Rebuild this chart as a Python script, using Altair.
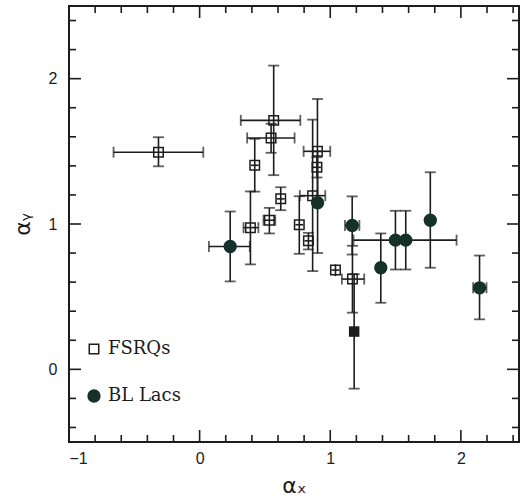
import altair as alt
import pandas as pd

# ---- data ----
# FSRQs (open squares)
fsrq_x   = [-0.315, 0.567, 0.547, 0.422, 0.389, 0.534, 0.621, 0.763, 0.833, 0.865, 0.898, 0.902, 1.040, 1.170]
fsrq_xlo = [-0.659, 0.315, 0.364, 0.392, 0.336, 0.489, 0.591, 0.733, 0.803, 0.767, 0.868, 0.796, 1.010, 1.089]
fsrq_xhi = [0.028, 0.771, 0.727, 0.452, 0.450, 0.579, 0.651, 0.793, 0.863, 0.962, 0.928, 1.000, 1.070, 1.260]
fsrq_y   = [1.494, 1.713, 1.592, 1.404, 0.975, 1.026, 1.173, 0.995, 0.884, 1.195, 1.390, 1.500, 0.683, 0.621]
fsrq_ylo = [1.397, 1.336, 1.490, 1.223, 0.722, 0.935, 1.095, 0.795, 0.825, 0.676, 1.320, 1.140, 0.641, 0.390]
fsrq_yhi = [1.597, 2.090, 1.690, 1.586, 1.224, 1.111, 1.253, 1.191, 0.939, 1.718, 1.460, 1.860, 0.722, 0.850]

# BL Lacs (filled circles)
bll_x   = [0.234, 1.168, 0.903, 1.387, 1.499, 1.578, 1.766, 2.143]
bll_xlo = [0.071, 1.113, 0.903, 1.387, 1.499, 1.178, 1.766, 2.094]
bll_xhi = [0.384, 1.223, 0.903, 1.387, 1.499, 1.967, 1.766, 2.196]
bll_y   = [0.845, 0.990, 1.146, 0.699, 0.889, 0.889, 1.026, 0.561]
bll_ylo = [0.605, 0.790, 0.800, 0.458, 0.687, 0.687, 0.699, 0.344]
bll_yhi = [1.086, 1.190, 1.500, 0.935, 1.091, 1.091, 1.356, 0.783]

# unlabelled filled square
oth_x   = [1.183]
oth_y   = [0.260]
oth_ylo = [-0.133]
oth_yhi = [0.655]

# axes
x_domain = [-1, 2.445]
y_domain = [-0.5, 2.5]
x_major = [-1, 0, 1, 2]
y_major = [0, 1, 2]
x_minor = [-0.8, -0.6, -0.4, -0.2, 0.2, 0.4, 0.6, 0.8, 1.2, 1.4, 1.6, 1.8, 2.2, 2.4]
y_minor = [-0.4, -0.2, 0.2, 0.4, 0.6, 0.8, 1.2, 1.4, 1.6, 1.8, 2.2, 2.4]

# ---- tables ----
rows = []
for t, X, XL, XH, Y, YL, YH in [
    ("FSRQs", fsrq_x, fsrq_xlo, fsrq_xhi, fsrq_y, fsrq_ylo, fsrq_yhi),
    ("BL Lacs", bll_x, bll_xlo, bll_xhi, bll_y, bll_ylo, bll_yhi),
]:
    for i in range(len(X)):
        rows.append(dict(type=t, x=X[i], xlo=XL[i], xhi=XH[i], y=Y[i], ylo=YL[i], yhi=YH[i]))
for i in range(len(oth_x)):
    rows.append(dict(type="other", x=oth_x[i], xlo=oth_x[i], xhi=oth_x[i],
                     y=oth_y[i], ylo=oth_ylo[i], yhi=oth_yhi[i]))
df = pd.DataFrame(rows)
pts = df[df.type != "other"]
oth = df[df.type == "other"]

capx = []
capy = []
for r in df.itertuples():
    if r.xhi - r.x > 0.04:
        capx += [dict(cx=r.xlo, y=r.y), dict(cx=r.xhi, y=r.y)]
    if r.yhi - r.y > 0.04:
        capy += [dict(x=r.x, cy=r.ylo), dict(x=r.x, cy=r.yhi)]
capx = pd.DataFrame(capx)
capy = pd.DataFrame(capy)

W, H = 450, 436
MAJ, MIN = 12, 7
xs = alt.Scale(domain=x_domain, nice=False, zero=False)
ys = alt.Scale(domain=y_domain, nice=False, zero=False)
INK = "#1c1c1c"
DARK = "#16302a"

xt = pd.DataFrame({"v": x_major + x_minor, "len": [MAJ] * len(x_major) + [MIN] * len(x_minor)})
yt = pd.DataFrame({"v": y_major + y_minor, "len": [MAJ] * len(y_major) + [MIN] * len(y_minor)})


def xticks(edge):
    # inward ticks on the bottom (edge=H) or top (edge=0) frame line
    sign = -1 if edge == H else 1
    return alt.Chart(xt).transform_calculate(p0=str(edge), p1=f"{edge} + {sign} * datum.len").mark_rule(
        color=INK, strokeWidth=1.6).encode(
        x=alt.X("v:Q", scale=xs, axis=None),
        y=alt.Y("p0:Q", scale=None), y2="p1:Q")


def yticks(edge):
    sign = -1 if edge == W else 1
    return alt.Chart(yt).transform_calculate(p0=str(edge), p1=f"{edge} + {sign} * datum.len").mark_rule(
        color=INK, strokeWidth=1.6).encode(
        y=alt.Y("v:Q", scale=ys, axis=None),
        x=alt.X("p0:Q", scale=None), x2="p1:Q")


lab = alt.Chart(pts).mark_point(opacity=0).encode(
    x=alt.X("x:Q", scale=xs, axis=alt.Axis(
        orient="bottom", values=x_major, ticks=False, domain=False, grid=False,
        labelFont="Liberation Sans", labelFontSize=16, labelColor=INK, labelPadding=8,
        title="αₓ", titleFont="DejaVu Sans", titleFontSize=22, titleFontWeight="normal",
        titleColor=INK, titlePadding=9)),
    y=alt.Y("y:Q", scale=ys, axis=alt.Axis(
        orient="left", values=y_major, ticks=False, domain=False, grid=False,
        labelFont="Liberation Sans", labelFontSize=16, labelColor=INK, labelPadding=12,
        title="αᵧ", titleFont="DejaVu Sans", titleFontSize=22, titleFontWeight="normal",
        titleColor=INK, titlePadding=14)),
)

ex = alt.Chart(df).mark_rule(color=INK, strokeWidth=1.6).encode(
    x=alt.X("xlo:Q", scale=xs, axis=None), x2="xhi:Q",
    y=alt.Y("y:Q", scale=ys, axis=None))
ey = alt.Chart(df).mark_rule(color=INK, strokeWidth=1.6).encode(
    x=alt.X("x:Q", scale=xs, axis=None),
    y=alt.Y("ylo:Q", scale=ys, axis=None), y2="yhi:Q")
cx = alt.Chart(capx).mark_tick(orient="vertical", size=11, thickness=1.8, color=INK).encode(
    x=alt.X("cx:Q", scale=xs, axis=None), y=alt.Y("y:Q", scale=ys, axis=None))
cy = alt.Chart(capy).mark_tick(orient="horizontal", size=11, thickness=1.8, color=INK).encode(
    x=alt.X("x:Q", scale=xs, axis=None), y=alt.Y("cy:Q", scale=ys, axis=None))

points = alt.Chart(pts).mark_point(strokeWidth=1.5, opacity=1).encode(
    x=alt.X("x:Q", scale=xs, axis=None),
    y=alt.Y("y:Q", scale=ys, axis=None),
    shape=alt.Shape("type:N", scale=alt.Scale(domain=["FSRQs", "BL Lacs"], range=["square", "circle"]),
                    legend=alt.Legend(orient="none", legendX=16, legendY=334, title=None,
                                      labelFont="DejaVu Serif", labelFontSize=18,
                                      labelColor=INK, rowPadding=29, labelOffset=5,
                                      symbolStrokeWidth=1.5, padding=0)),
    fill=alt.Fill("type:N", scale=alt.Scale(domain=["FSRQs", "BL Lacs"], range=["transparent", DARK])),
    stroke=alt.Stroke("type:N", scale=alt.Scale(domain=["FSRQs", "BL Lacs"], range=[INK, DARK])),
    size=alt.Size("type:N", scale=alt.Scale(domain=["FSRQs", "BL Lacs"], range=[90, 140])),
)
other = alt.Chart(oth).mark_square(size=110, color=INK, opacity=1).encode(
    x=alt.X("x:Q", scale=xs, axis=None), y=alt.Y("y:Q", scale=ys, axis=None))

chart = alt.layer(
    lab, xticks(H), xticks(0), yticks(0), yticks(W), ex, ey, cx, cy, points, other
).resolve_axis(x="independent", y="independent").properties(
    width=W, height=H,
    autosize=alt.AutoSizeParams(type="none"),
    padding={"left": 69, "top": 6, "right": 2, "bottom": 62},
    background="white",
).configure_view(stroke=INK, strokeWidth=2)

chart.save("out.html", embed_options={"renderer": "svg", "actions": False})
